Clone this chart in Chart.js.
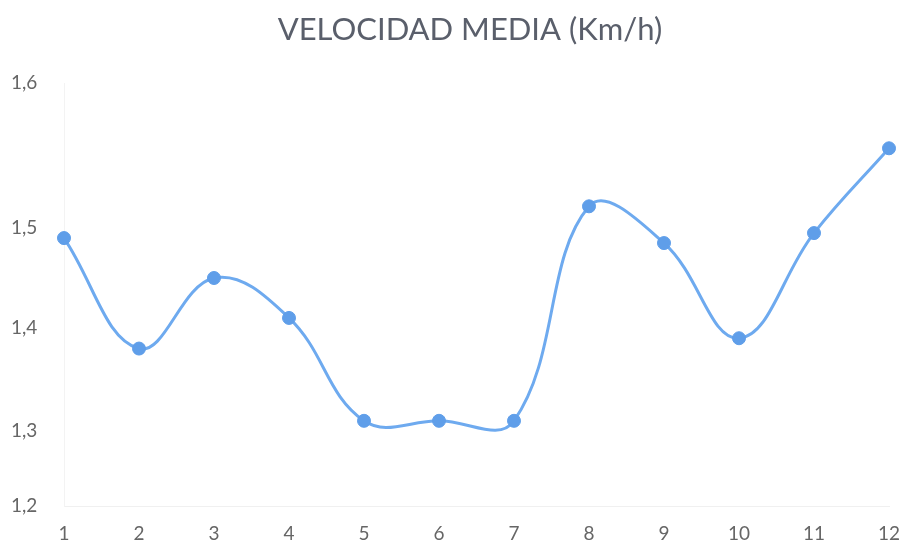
<!DOCTYPE html>
<html>
<head>
<meta charset="utf-8">
<script src="https://cdn.jsdelivr.net/npm/chart.js@4/dist/chart.umd.min.js"></script>
<style>
  html, body { margin: 0; padding: 0; background: #ffffff; }
  #wrap { width: 907px; height: 542px; }
</style>
</head>
<body>
<div id="wrap"><canvas id="chart" width="907" height="542"></canvas></div>
<script>
// Months / sample number
const categories = ['1', '2', '3', '4', '5', '6', '7', '8', '9', '10', '11', '12'];
// Average speed (km/h)
const speed = [1.49, 1.38, 1.45, 1.41, 1.31, 1.31, 1.31, 1.515, 1.485, 1.39, 1.495, 1.555];
// Value axis ticks
const yTicks = [1.2, 1.3, 1.4, 1.5, 1.6];
const chartTitle = 'VELOCIDAD MEDIA (Km/h)';

// Vertical axis whose tick bands have individual heights (fraction of the
// axis length, from the bottom), interpolated linearly inside each band.
const bandStops = [0, 0.177, 0.421, 0.657, 1];

class BandedScale extends Chart.LinearScale {
  static id = 'banded';
  static defaults = Chart.LinearScale.defaults;
  _toDecimal(v) {
    const n = yTicks.length;
    if (v <= yTicks[0]) {
      return bandStops[0] + (v - yTicks[0]) / (yTicks[1] - yTicks[0]) * (bandStops[1] - bandStops[0]);
    }
    for (let i = 1; i < n; i++) {
      if (v <= yTicks[i] || i === n - 1) {
        const t = (v - yTicks[i - 1]) / (yTicks[i] - yTicks[i - 1]);
        return bandStops[i - 1] + t * (bandStops[i] - bandStops[i - 1]);
      }
    }
    return 1;
  }
  _fromDecimal(d) {
    const n = yTicks.length;
    for (let i = 1; i < n; i++) {
      if (d <= bandStops[i] || i === n - 1) {
        const t = (d - bandStops[i - 1]) / (bandStops[i] - bandStops[i - 1]);
        return yTicks[i - 1] + t * (yTicks[i] - yTicks[i - 1]);
      }
    }
    return yTicks[n - 1];
  }
  getPixelForValue(value) {
    if (value === null || value === undefined || isNaN(value)) return NaN;
    return this.getPixelForDecimal(this._toDecimal(value));
  }
  getValueForPixel(pixel) {
    return this._fromDecimal(this.getDecimalForPixel(pixel));
  }
}
Chart.register(BandedScale);

// Heading drawn slightly right of the canvas centre, above the plot
const headingPlugin = {
  id: 'heading',
  afterDraw(chart) {
    const ctx = chart.ctx;
    ctx.save();
    ctx.font = '31px Lato, "Open Sans", sans-serif';
    ctx.fillStyle = '#5a5f6b';
    ctx.textAlign = 'center';
    ctx.textBaseline = 'middle';
    ctx.fillText(chartTitle, 470, 30);
    ctx.restore();
  }
};

const labelFont = { family: 'Lato, "Open Sans", sans-serif', size: 19 };

new Chart(document.getElementById('chart'), {
  type: 'line',
  data: {
    labels: categories,
    datasets: [{
      label: 'Velocidad media',
      data: speed,
      borderColor: '#6eaaef',
      borderWidth: 3,
      tension: 0.4,
      pointRadius: 6.5,
      pointBackgroundColor: '#5f9ee9',
      pointBorderColor: '#5f9ee9',
      pointBorderWidth: 1,
      fill: false
    }]
  },
  options: {
    responsive: false,
    animation: false,
    layout: { autoPadding: false, padding: { left: 11, right: 18, top: 83, bottom: 0 } },
    plugins: {
      legend: { display: false },
      tooltip: { enabled: false },
      title: { display: false }
    },
    scales: {
      x: {
        offset: false,
        grid: { display: false, drawTicks: false },
        border: { display: true, color: '#f0f0f0', width: 1 },
        ticks: { color: '#666666', font: labelFont, padding: 16, maxRotation: 0, autoSkip: false },
        afterFit: (s) => { s.height = 36; s.paddingLeft = 0; s.paddingRight = 0; }
      },
      y: {
        type: 'banded',
        min: 1.2,
        max: 1.6,
        grid: { display: false, drawTicks: false },
        border: { display: true, color: '#f3f3f3', width: 1, dash: [2, 3] },
        afterBuildTicks: (s) => { s.ticks = yTicks.map(v => ({ value: v })); },
        ticks: {
          color: '#666666',
          font: labelFont,
          crossAlign: 'far',
          callback: (v) => v.toFixed(1).replace('.', ',')
        },
        afterFit: (s) => { s.width = 53; s.paddingTop = 0; s.paddingBottom = 0; }
      }
    }
  },
  plugins: [headingPlugin]
});
</script>
</body>
</html>
